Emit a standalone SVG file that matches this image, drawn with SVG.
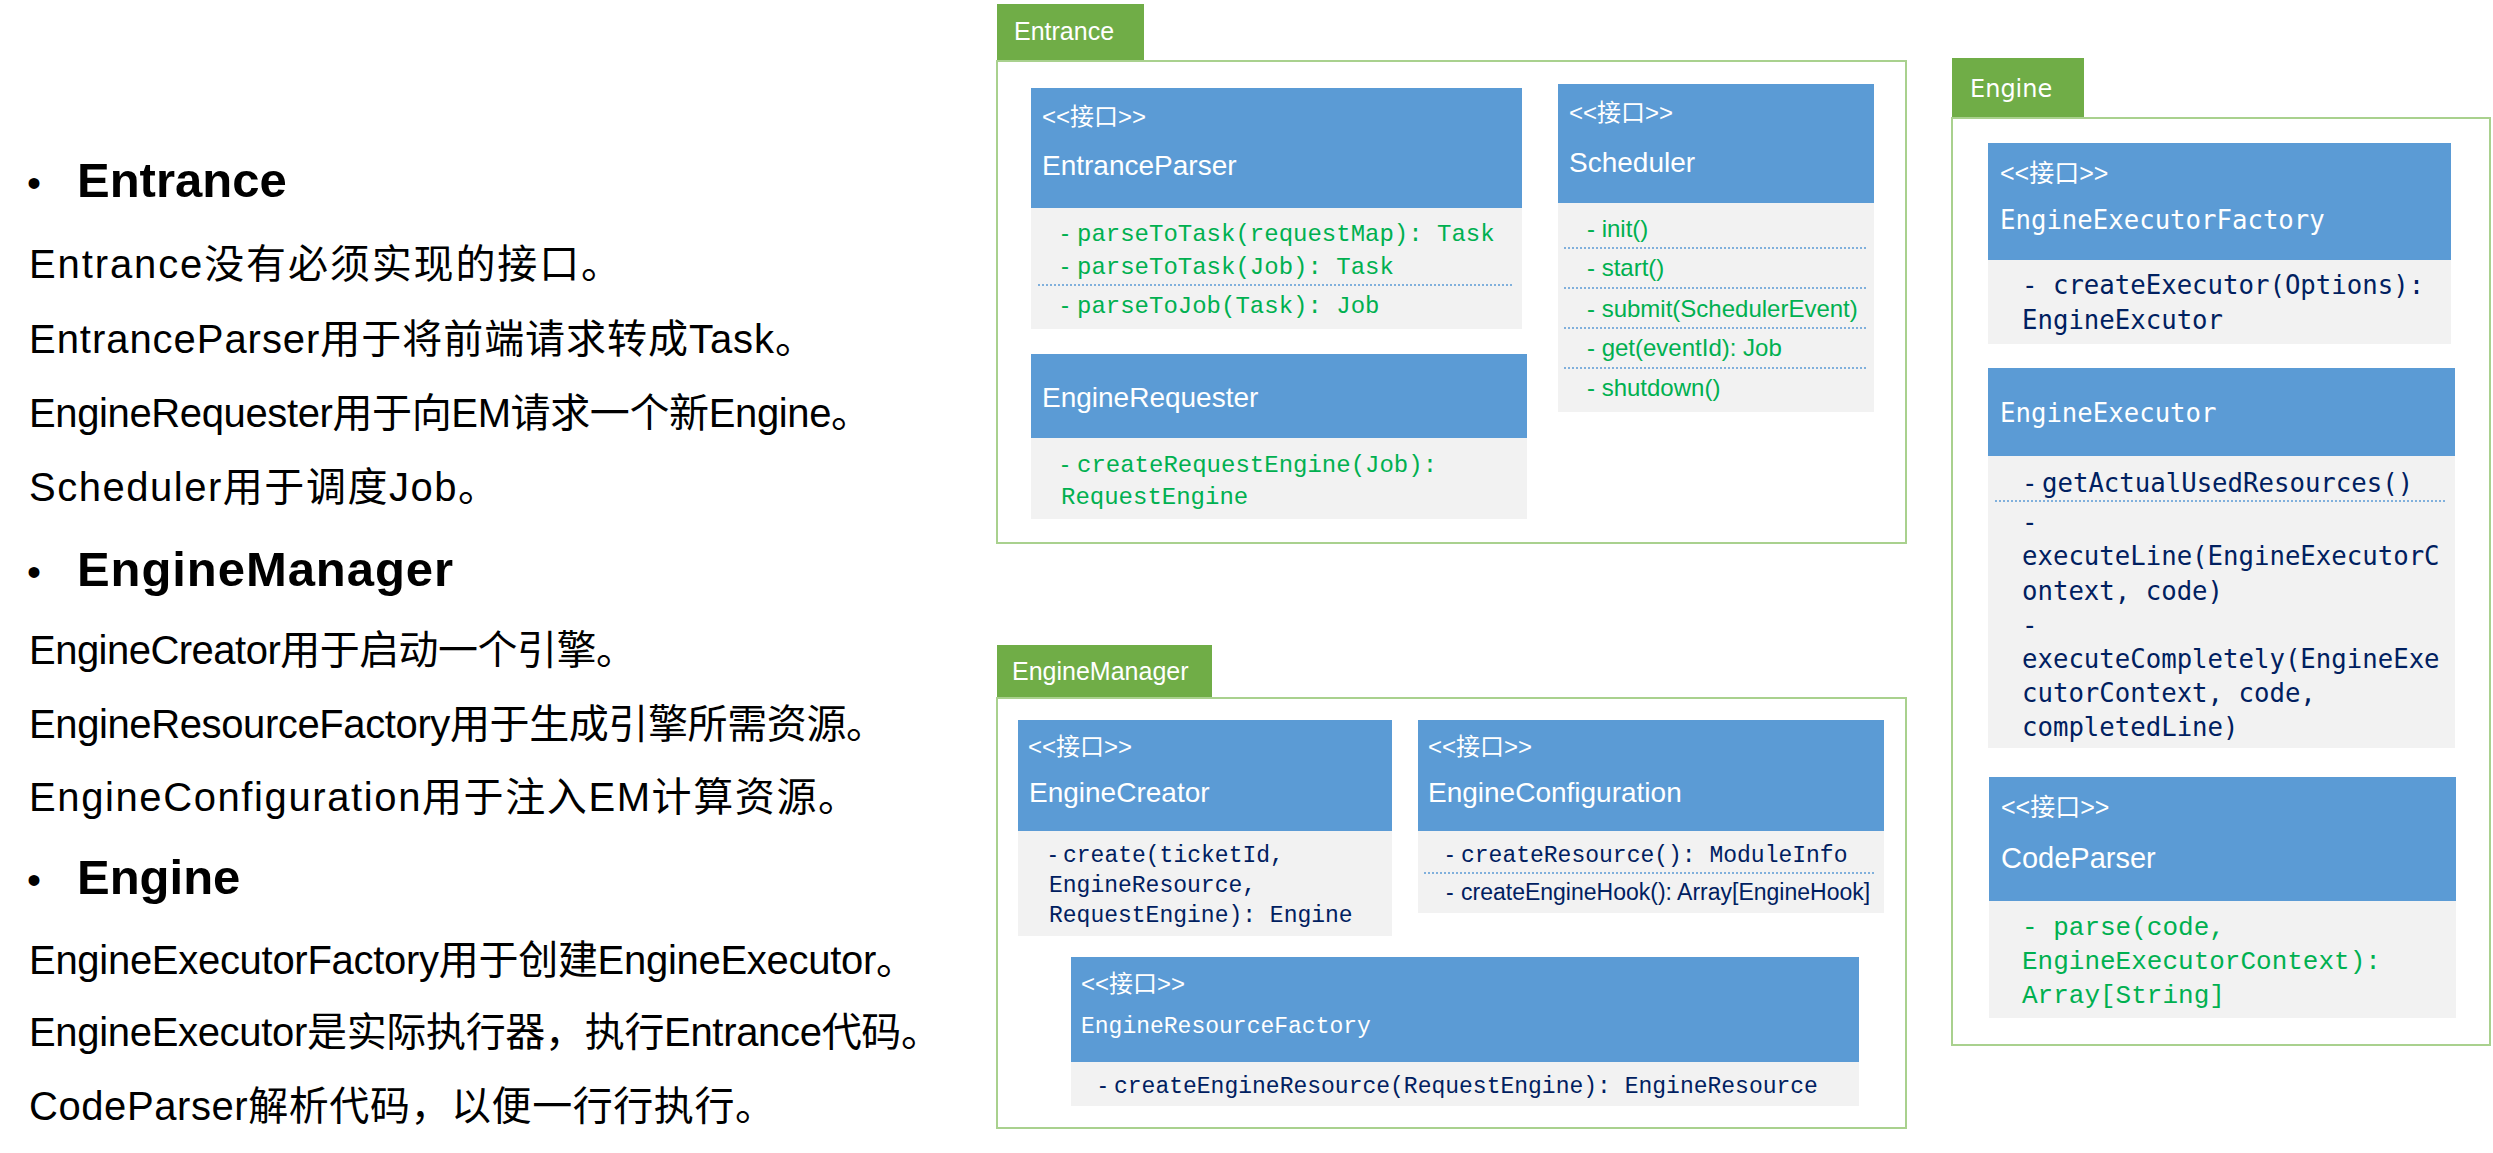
<svg xmlns="http://www.w3.org/2000/svg" width="2493" height="1153" viewBox="0 0 2493 1153">
<style>
.bg{fill:#ffffff}
.tab{fill:#70AD47}
.frame{fill:none;stroke:#A9D18E;stroke-width:2}
.hdr{fill:#5B9BD5}
.body{fill:#F2F2F2}
.dot{stroke:#5B9BD5;stroke-width:1.5;stroke-dasharray:2 2;fill:none}
.tabtxt{font-family:"Liberation Sans","Noto Sans",sans-serif;font-size:25px;fill:#ffffff}
.tabtxtw{font-family:"DejaVu Sans",sans-serif;font-size:24px;fill:#ffffff}
.stereo{font-family:"Liberation Sans","Noto Sans CJK SC",sans-serif;font-size:24px;fill:#ffffff}
.name{font-family:"Liberation Sans","Noto Sans",sans-serif;font-size:28px;fill:#ffffff}
.mname{font-family:"Liberation Mono",monospace;font-size:23px;fill:#ffffff}
.wname{font-family:"DejaVu Sans Mono",monospace;font-size:25.7px;fill:#ffffff}
.mg{font-family:"Liberation Mono",monospace;font-size:24px;fill:#00B050}
.sg{font-family:"Liberation Sans",sans-serif;font-size:24px;fill:#00B050}
.mn{font-family:"Liberation Mono",monospace;font-size:23px;fill:#002060}
.sn{font-family:"Liberation Sans",sans-serif;font-size:23px;fill:#002060}
.wn{font-family:"DejaVu Sans Mono",monospace;font-size:25.7px;fill:#002060}
.cg{font-family:"Liberation Mono",monospace;font-size:26px;fill:#00B050}
.dash{font-family:"Liberation Sans",sans-serif}
.h1{font-family:"Liberation Sans","Noto Sans CJK SC",sans-serif;font-size:49px;font-weight:bold;fill:#000000}
.bul{font-family:"Liberation Sans",sans-serif;font-size:40px;fill:#000000}
.p{font-family:"Liberation Sans","Noto Sans CJK SC",sans-serif;font-size:40px;fill:#000000}
</style>
<rect class="bg" x="0" y="0" width="2493" height="1153"/>

<g id="left-text">
  <text class="bul" x="27" y="197">•</text>
  <text class="h1" x="77" y="197">Entrance</text>
  <text class="p" x="29" y="278" textLength="592" lengthAdjust="spacing">Entrance没有必须实现的接口。</text>
  <text class="p" x="29" y="353" textLength="786" lengthAdjust="spacing">EntranceParser用于将前端请求转成Task。</text>
  <text class="p" x="29" y="427" textLength="842" lengthAdjust="spacing">EngineRequester用于向EM请求一个新Engine。</text>
  <text class="p" x="29" y="501" textLength="469" lengthAdjust="spacing">Scheduler用于调度Job。</text>
  <text class="bul" x="27" y="586">•</text>
  <text class="h1" x="77" y="586" textLength="376" lengthAdjust="spacing">EngineManager</text>
  <text class="p" x="29" y="664" textLength="607" lengthAdjust="spacing">EngineCreator用于启动一个引擎。</text>
  <text class="p" x="29" y="738" textLength="857" lengthAdjust="spacing">EngineResourceFactory用于生成引擎所需资源。</text>
  <text class="p" x="29" y="811" textLength="829" lengthAdjust="spacing">EngineConfiguration用于注入EM计算资源。</text>
  <text class="bul" x="27" y="894">•</text>
  <text class="h1" x="77" y="894">Engine</text>
  <text class="p" x="29" y="974" textLength="887" lengthAdjust="spacing">EngineExecutorFactory用于创建EngineExecutor。</text>
  <text class="p" x="29" y="1046" textLength="912" lengthAdjust="spacing">EngineExecutor是实际执行器，执行Entrance代码。</text>
  <text class="p" x="29" y="1120" textLength="746" lengthAdjust="spacing">CodeParser解析代码，以便一行行执行。</text>
</g>

<!-- Entrance package -->
<g id="pkg-entrance">
  <rect class="tab" x="997" y="4" width="147" height="57"/>
  <rect class="frame" x="997" y="61" width="909" height="482"/>
  <text class="tabtxt" x="1014" y="40">Entrance</text>
</g>
<g id="EntranceParser">
  <rect class="hdr" x="1031" y="88" width="491" height="120"/>
  <rect class="body" x="1031" y="208" width="491" height="121"/>
  <text class="stereo" x="1042" y="125">&lt;&lt;接口&gt;&gt;</text>
  <text class="name" x="1042" y="175">EntranceParser</text>
  <text class="mg"><tspan class="dash" x="1061" y="241">-</tspan><tspan x="1077" y="241">parseToTask(requestMap): Task</tspan></text>
  <text class="mg"><tspan class="dash" x="1061" y="274">-</tspan><tspan x="1077" y="274">parseToTask(Job): Task</tspan></text>
  <line class="dot" x1="1038" y1="285" x2="1514" y2="285"/>
  <text class="mg"><tspan class="dash" x="1061" y="313">-</tspan><tspan x="1077" y="313">parseToJob(Task): Job</tspan></text>
</g>
<g id="EngineRequester">
  <rect class="hdr" x="1031" y="354" width="496" height="84"/>
  <rect class="body" x="1031" y="438" width="496" height="81"/>
  <text class="name" x="1042" y="407">EngineRequester</text>
  <text class="mg"><tspan class="dash" x="1061" y="472">-</tspan><tspan x="1077" y="472">createRequestEngine(Job):</tspan></text>
  <text class="mg" x="1061" y="504">RequestEngine</text>
</g>
<g id="Scheduler">
  <rect class="hdr" x="1558" y="84" width="316" height="119"/>
  <rect class="body" x="1558" y="203" width="316" height="209"/>
  <text class="stereo" x="1569" y="121">&lt;&lt;接口&gt;&gt;</text>
  <text class="name" x="1569" y="172">Scheduler</text>
  <text class="sg" x="1587" y="237">- init()</text>
  <line class="dot" x1="1564" y1="248" x2="1867" y2="248"/>
  <text class="sg" x="1587" y="276">- start()</text>
  <line class="dot" x1="1564" y1="288" x2="1867" y2="288"/>
  <text class="sg" x="1587" y="317">- submit(SchedulerEvent)</text>
  <line class="dot" x1="1564" y1="328" x2="1867" y2="328"/>
  <text class="sg" x="1587" y="356">- get(eventId): Job</text>
  <line class="dot" x1="1564" y1="368" x2="1867" y2="368"/>
  <text class="sg" x="1587" y="396">- shutdown()</text>
</g>

<!-- EngineManager package -->
<g id="pkg-enginemanager">
  <rect class="tab" x="997" y="645" width="215" height="53"/>
  <rect class="frame" x="997" y="698" width="909" height="430"/>
  <text class="tabtxt" x="1012" y="680">EngineManager</text>
</g>
<g id="EngineCreator">
  <rect class="hdr" x="1018" y="720" width="374" height="111"/>
  <rect class="body" x="1018" y="831" width="374" height="105"/>
  <text class="stereo" x="1028" y="755">&lt;&lt;接口&gt;&gt;</text>
  <text class="name" x="1029" y="802">EngineCreator</text>
  <text class="mn"><tspan class="dash" x="1049" y="862">-</tspan><tspan x="1063" y="862">create(ticketId,</tspan></text>
  <text class="mn" x="1049" y="892">EngineResource,</text>
  <text class="mn" x="1049" y="922">RequestEngine): Engine</text>
</g>
<g id="EngineConfiguration">
  <rect class="hdr" x="1418" y="720" width="466" height="111"/>
  <rect class="body" x="1418" y="831" width="466" height="82"/>
  <text class="stereo" x="1428" y="755">&lt;&lt;接口&gt;&gt;</text>
  <text class="name" x="1428" y="802">EngineConfiguration</text>
  <text class="mn"><tspan class="dash" x="1446" y="862">-</tspan><tspan x="1461" y="862">createResource(): ModuleInfo</tspan></text>
  <line class="dot" x1="1424" y1="873" x2="1876" y2="873"/>
  <text class="sn"><tspan x="1446" y="900">-</tspan><tspan x="1461" y="900">createEngineHook(): Array[EngineHook]</tspan></text>
</g>
<g id="EngineResourceFactory">
  <rect class="hdr" x="1071" y="957" width="788" height="105"/>
  <rect class="body" x="1071" y="1062" width="788" height="44"/>
  <text class="stereo" x="1081" y="992">&lt;&lt;接口&gt;&gt;</text>
  <text class="mname" x="1081" y="1033">EngineResourceFactory</text>
  <text class="mn"><tspan class="dash" x="1099" y="1093">-</tspan><tspan x="1114" y="1093">createEngineResource(RequestEngine): EngineResource</tspan></text>
</g>

<!-- Engine package -->
<g id="pkg-engine">
  <rect class="tab" x="1952" y="58" width="132" height="60"/>
  <rect class="frame" x="1952" y="118" width="538" height="927"/>
  <text class="tabtxtw" x="1970" y="97">Engine</text>
</g>
<g id="EngineExecutorFactory">
  <rect class="hdr" x="1988" y="143" width="463" height="117"/>
  <rect class="body" x="1988" y="260" width="463" height="84"/>
  <text class="stereo" x="2000" y="182" style="font-size:25px">&lt;&lt;接口&gt;&gt;</text>
  <text class="wname" x="2000" y="229">EngineExecutorFactory</text>
  <text class="wn" x="2022" y="294">- createExecutor(Options):</text>
  <text class="wn" x="2022" y="329">EngineExcutor</text>
</g>
<g id="EngineExecutor">
  <rect class="hdr" x="1988" y="368" width="467" height="88"/>
  <rect class="body" x="1988" y="456" width="467" height="292"/>
  <text class="wname" x="2000" y="422">EngineExecutor</text>
  <text class="wn"><tspan x="2022" y="492">-</tspan><tspan x="2042" y="492">getActualUsedResources()</tspan></text>
  <line class="dot" x1="1995" y1="501" x2="2445" y2="501"/>
  <text class="wn" x="2022" y="531">-</text>
  <text class="wn" x="2022" y="565">executeLine(EngineExecutorC</text>
  <text class="wn" x="2022" y="600">ontext, code)</text>
  <text class="wn" x="2022" y="634">-</text>
  <text class="wn" x="2022" y="668">executeCompletely(EngineExe</text>
  <text class="wn" x="2022" y="702">cutorContext, code,</text>
  <text class="wn" x="2022" y="736">completedLine)</text>
</g>
<g id="CodeParser">
  <rect class="hdr" x="1989" y="777" width="467" height="124"/>
  <rect class="body" x="1989" y="901" width="467" height="117"/>
  <text class="stereo" x="2001" y="816" style="font-size:25px">&lt;&lt;接口&gt;&gt;</text>
  <text class="name" x="2001" y="868" style="font-size:29px">CodeParser</text>
  <text class="cg" x="2022" y="935">- parse(code,</text>
  <text class="cg" x="2022" y="969">EngineExecutorContext):</text>
  <text class="cg" x="2022" y="1003">Array[String]</text>
</g>
<g id="connectors"></g>
</svg>
